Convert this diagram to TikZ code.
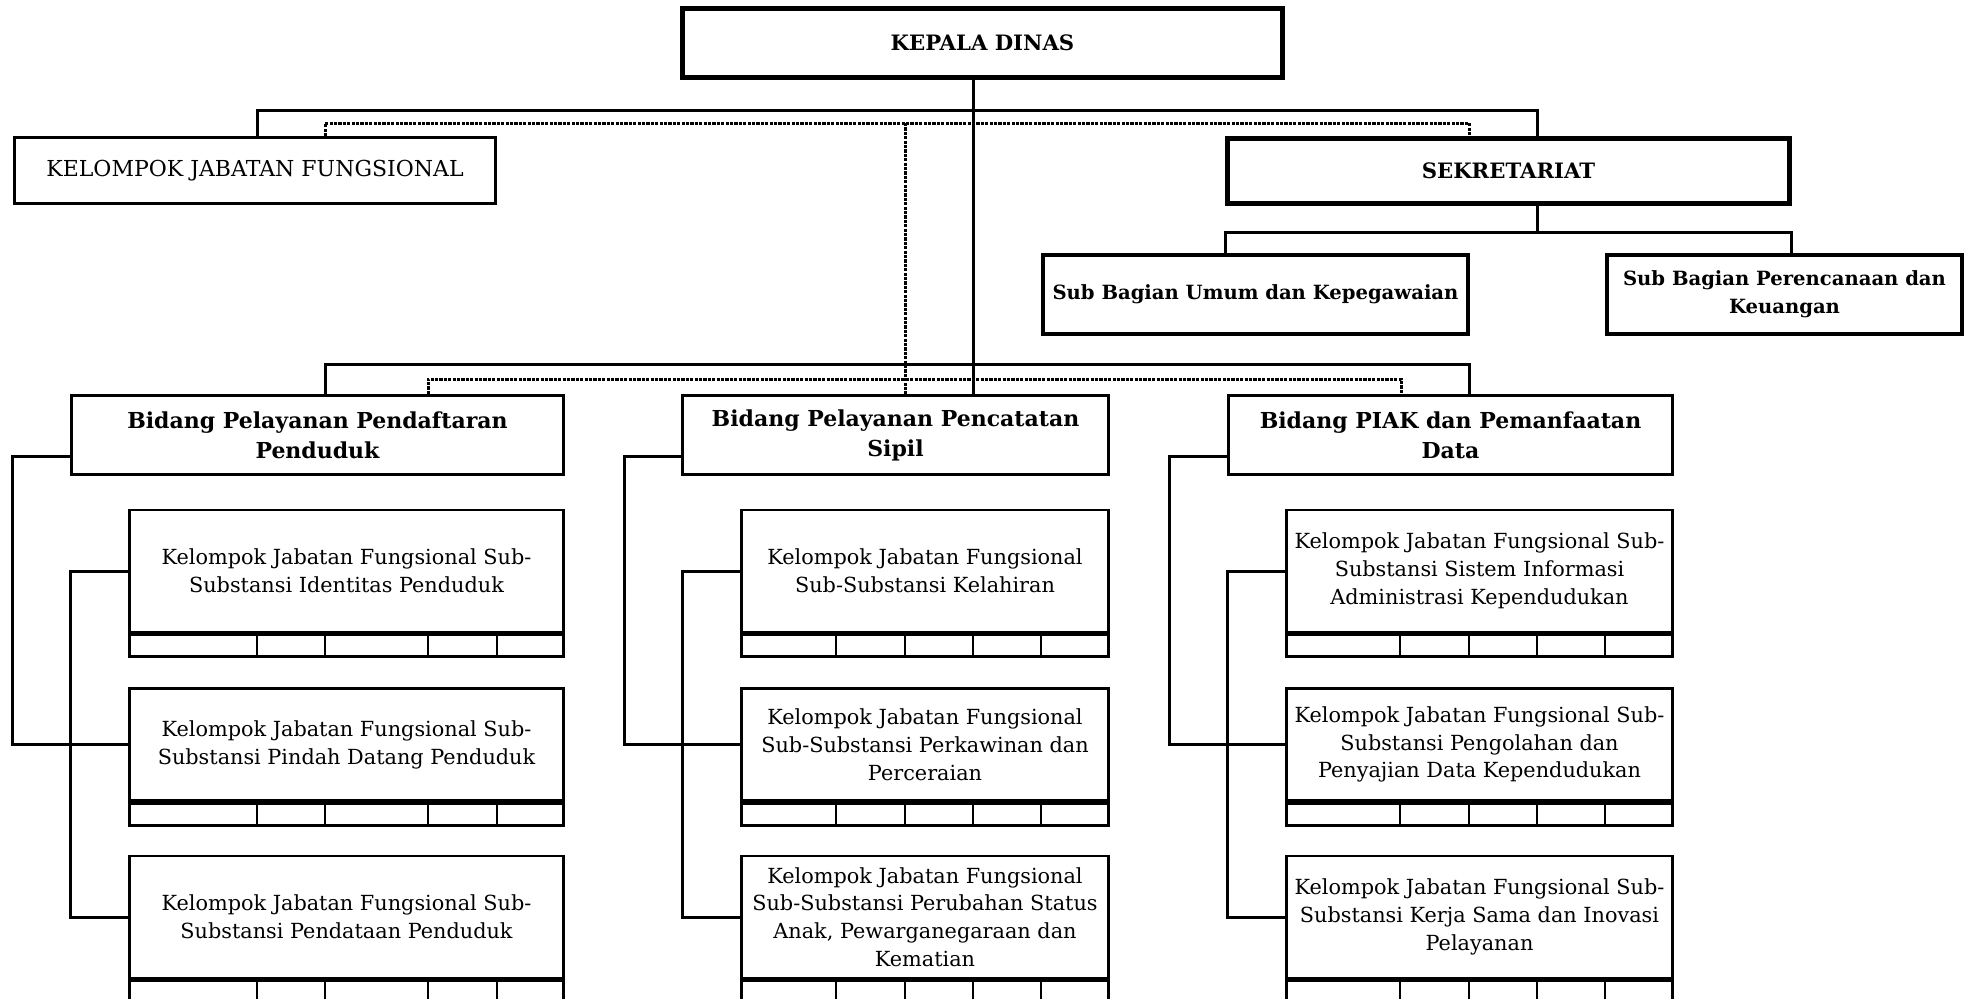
\documentclass[tikz,border=0pt]{standalone}
\usepackage{fontspec}
\setmainfont{DejaVu Serif}
\usetikzlibrary{positioning}

\begin{document}
\begin{tikzpicture}[
    x=0.5pt, y=-0.5pt,
    headbox/.style={rectangle, draw=black, line width=2.4pt, align=center, inner sep=2pt, font=\fontsize{10.6}{14}\selectfont\bfseries},
    plainbox/.style={rectangle, draw=black, line width=1.4pt, align=center, inner sep=2pt},
    bidbox/.style={plainbox, minimum height=39.6pt, font=\fontsize{11}{15}\selectfont\bfseries},
    subbox/.style={plainbox, font=\fontsize{10.4}{13.9}\selectfont},
    cellrow/.style={rectangle, draw=black, line width=1.4pt, minimum height=11pt, inner sep=0pt, anchor=north},
    cellline/.style={line width=1.4pt},
    link/.style={line width=1.5pt},
    dotlink/.style={line width=1.5pt, dash pattern=on 1.6pt off 0.6pt}
]
\useasboundingbox (0,0) rectangle (1974,998);

% Top level
\node[headbox, minimum width=300pt, minimum height=34.5pt] at (982.5,43) (kadis) {KEPALA DINAS};
\node[plainbox, minimum width=240.5pt, minimum height=33pt, font=\fontsize{11}{14}\selectfont] at (255,170.5) (kjf) {KELOMPOK JABATAN FUNGSIONAL};
\node[headbox, minimum width=281pt, minimum height=32.6pt] at (1508.5,171) (sekre) {SEKRETARIAT};

% Sekretariat units
\node[headbox, line width=2.2pt, minimum width=212.3pt, minimum height=39.3pt, font=\fontsize{9.8}{13.9}\selectfont\bfseries] at (1255.5,294.5) (subum) {Sub Bagian Umum dan Kepegawaian};
\node[headbox, line width=2.2pt, minimum width=177.3pt, minimum height=39.3pt, font=\fontsize{9.8}{13.9}\selectfont\bfseries] at (1784.5,294.5) (subren) {Sub Bagian Perencanaan dan\\Keuangan};

% Bidang
\node[bidbox, minimum width=246pt] at (317.5,435) (bid1) {Bidang Pelayanan Pendaftaran\\Penduduk};
\node[bidbox, minimum width=213pt] at (895.5,435) (bid2) {Bidang Pelayanan Pencatatan\\Sipil};
\node[bidbox, minimum width=222pt] at (1450.5,435) (bid3) {Bidang PIAK dan Pemanfaatan\\Data};

% Sub-substansi, column 1
\node[subbox, minimum width=217pt, minimum height=61pt] at (346.5,571) (s11) {Kelompok Jabatan Fungsional Sub-\\Substansi Identitas Penduduk};
\node[subbox, minimum width=217pt, minimum height=56pt] at (346.5,744.5) (s12) {Kelompok Jabatan Fungsional Sub-\\Substansi Pindah Datang Penduduk};
\node[subbox, minimum width=217pt, minimum height=61pt] at (346.5,917) (s13) {Kelompok Jabatan Fungsional Sub-\\Substansi Pendataan Penduduk};

% Sub-substansi, column 2
\node[subbox, minimum width=183.6pt, minimum height=61pt] at (925,571) (s21) {Kelompok Jabatan Fungsional\\Sub-Substansi Kelahiran};
\node[subbox, minimum width=183.6pt, minimum height=56pt] at (925,744.5) (s22) {Kelompok Jabatan Fungsional\\Sub-Substansi Perkawinan dan\\Perceraian};
\node[subbox, minimum width=183.6pt, minimum height=61pt] at (925,917) (s23) {Kelompok Jabatan Fungsional\\Sub-Substansi Perubahan Status\\Anak, Pewarganegaraan dan\\Kematian};

% Sub-substansi, column 3
\node[subbox, minimum width=193pt, minimum height=61pt] at (1479.5,571) (s31) {Kelompok Jabatan Fungsional Sub-\\Substansi Sistem Informasi\\Administrasi Kependudukan};
\node[subbox, minimum width=193pt, minimum height=56pt] at (1479.5,744.5) (s32) {Kelompok Jabatan Fungsional Sub-\\Substansi Pengolahan dan\\Penyajian Data Kependudukan};
\node[subbox, minimum width=193pt, minimum height=61pt] at (1479.5,917) (s33) {Kelompok Jabatan Fungsional Sub-\\Substansi Kerja Sama dan Inovasi\\Pelayanan};

% Cell rows under each box
\foreach \r in {1,2,3} {
    \node[cellrow, minimum width=217pt, below=0pt of s1\r.south] (r1\r) {};
    \node[cellrow, minimum width=183.6pt, below=0pt of s2\r.south] (r2\r) {};
    \node[cellrow, minimum width=193pt, below=0pt of s3\r.south] (r3\r) {};
    \foreach \cx in {257,325,428,497}
        \draw[cellline] (r1\r.north -| \cx,0) -- (r1\r.south -| \cx,0);
    \foreach \cx in {836,905,973,1041}
        \draw[cellline] (r2\r.north -| \cx,0) -- (r2\r.south -| \cx,0);
    \foreach \cx in {1400,1469,1537,1605}
        \draw[cellline] (r3\r.north -| \cx,0) -- (r3\r.south -| \cx,0);
}

% Main line of command
\coordinate (spine) at (973,0);
\draw[link] (kadis.south -| spine) -- (bid2.north -| spine);

% Kelompok jabatan fungsional and sekretariat
\coordinate (topL) at (257,110);
\coordinate (topR) at (1537,110);
\draw[link] (kjf.north -| topL) |- (topR) -- (sekre.north -| topR);
\coordinate (dotL) at (325,123);
\coordinate (dotR) at (1469,123);
\coordinate (dotM) at (905,123);
\draw[dotlink] (kjf.north -| dotL) |- (dotR) -- (sekre.north -| dotR);
\draw[dotlink] (dotM) -- (bid2.north -| dotM);

% Sekretariat to sub bagian
\coordinate (sekJ) at (1537,232);
\draw[link] (sekre.south -| sekJ) -- (sekJ);
\draw[link] (subum.north -| sekre.west) |- (sekJ) -| (subren.north -| sekre.east);

% Bidang bracket
\coordinate (bidL) at (325,364);
\coordinate (bidR) at (1469,364);
\draw[link] (bid1.north -| bidL) |- (bidR) -- (bid3.north -| bidR);
\coordinate (bdotL) at (428,379);
\coordinate (bdotR) at (1401,379);
\draw[dotlink] (bid1.north -| bdotL) |- (bdotR) -- (bid3.north -| bdotR);

% Bidang to sub-substansi
\foreach \c in {1,2,3} {
    \draw[link] (s\c2.west) -- ++(-116,0) |- ([yshift=-10.5pt]bid\c.west);
    \draw[link] (s\c1.west) -- ++(-58,0) |- (s\c3.west);
}

\end{tikzpicture}
\end{document}
